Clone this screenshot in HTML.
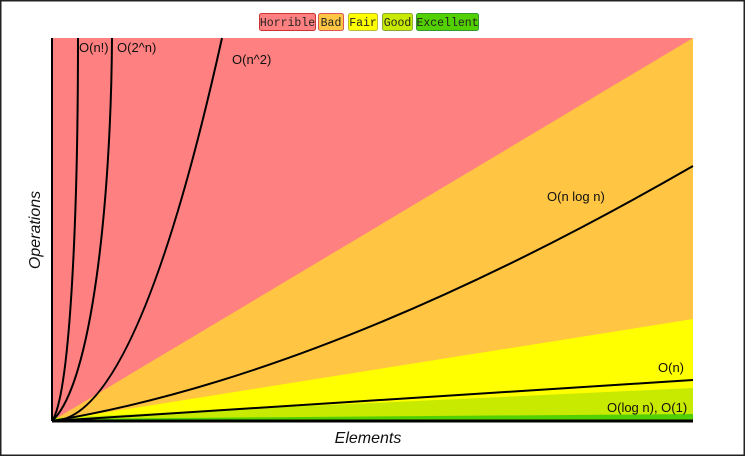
<!DOCTYPE html>
<html><head><style>
html,body{margin:0;padding:0;background:#fff;}
body{width:745px;height:456px;overflow:hidden;position:relative;}
</style></head><body>
<svg width="745" height="456" viewBox="0 0 745 456" xmlns="http://www.w3.org/2000/svg" style="position:absolute;left:0;top:0">
<rect x="0.5" y="0.5" width="744" height="455" fill="#fff" stroke="#222" stroke-width="2"/>
<g font-family="'Liberation Mono', monospace" font-size="11.5">
<rect x="259.5" y="13.5" width="56" height="17" rx="2" fill="#ff8080" stroke="#c33"/>
<text x="287.5" y="26" text-anchor="middle" fill="#222">Horrible</text>
<rect x="318.5" y="13.5" width="25" height="17" rx="2" fill="#ffc543" stroke="#d55"/>
<text x="331" y="26" text-anchor="middle" fill="#222">Bad</text>
<rect x="348.5" y="13.5" width="29" height="17" rx="2" fill="#ffff00" stroke="#bb3"/>
<text x="363" y="26" text-anchor="middle" fill="#222">Fair</text>
<rect x="382.5" y="13.5" width="30" height="17" rx="2" fill="#c8ea00" stroke="#8a3"/>
<text x="397.5" y="26" text-anchor="middle" fill="#222">Good</text>
<rect x="416.5" y="13.5" width="62" height="17" rx="2" fill="#53d000" stroke="#393"/>
<text x="447.5" y="26" text-anchor="middle" fill="#222">Excellent</text>
</g>
<rect x="52" y="38" width="641" height="383" fill="#ff8080"/>
<polygon points="52,421 693,38 693,421" fill="#ffc543"/>
<polygon points="52,421 693,319 693,421" fill="#ffff00"/>
<polygon points="52,418 693,388 693,421 52,421" fill="#c8ea00"/>
<polygon points="52,419 693,414 693,421 52,421" fill="#53d000"/>
<line x1="52" y1="38" x2="52" y2="421" stroke="#000" stroke-width="2"/>
<line x1="52" y1="421" x2="693" y2="421" stroke="#000" stroke-width="3"/>
<g fill="none" stroke="#000" stroke-width="2">
<path d="M52,421 C70,395 78,220 78,38"/>
<path d="M52,421 C92,385 111,200 112,38"/>
<path d="M52,421 Q137,421 222,38"/>
<path d="M52,421 Q330,375 693,166"/>
<path d="M52,421 L693,380"/>
</g>
<g font-family="'Liberation Sans', sans-serif" font-size="13" fill="#111">
<text x="79" y="52">O(n!)</text>
<text x="117" y="52">O(2^n)</text>
<text x="232" y="64">O(n^2)</text>
<text x="547" y="201">O(n log n)</text>
<text x="658" y="372">O(n)</text>
<text x="607" y="412">O(log n), O(1)</text>
</g>
<g font-family="'Liberation Sans', sans-serif" font-size="16" font-style="italic" fill="#111">
<text x="368" y="443" text-anchor="middle">Elements</text>
<text transform="translate(40,230) rotate(-90)" text-anchor="middle">Operations</text>
</g>
</svg>
</body></html>
